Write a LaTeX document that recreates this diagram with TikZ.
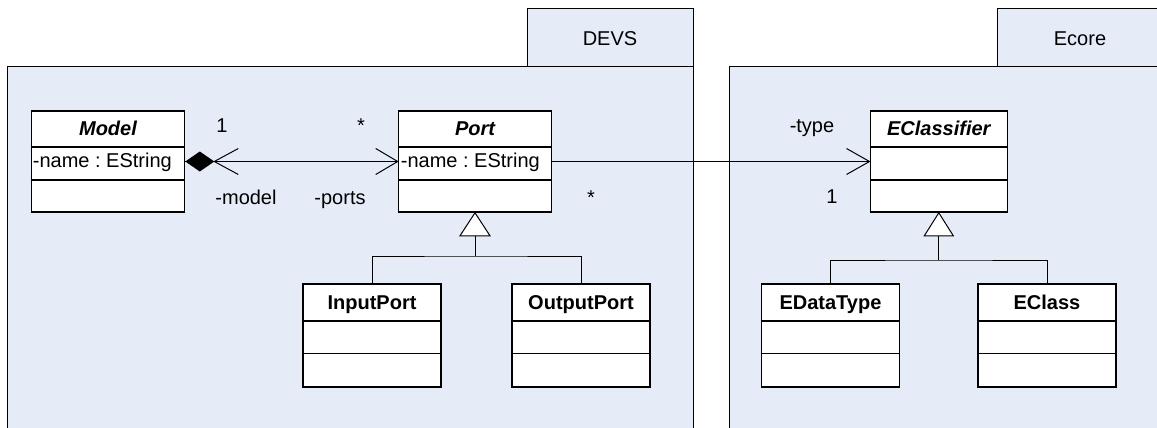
\documentclass[tikz,border=0pt]{standalone}
\usepackage{fontspec}
\setmainfont{Liberation Sans}
\definecolor{pkgblue}{RGB}{230,236,247}
\frenchspacing
\begin{document}
\begin{tikzpicture}[x=1pt,y=-1pt,
  pkg/.style={draw=black, fill=pkgblue, line width=1pt},
  cls/.style={draw=black, fill=white, line width=1.6pt, rectangle, inner sep=0pt},
  divl/.style={line width=1.6pt},
  conn/.style={line width=1pt},
  lbl/.style={font=\fontsize{20}{24}\selectfont, inner sep=0pt, anchor=base},
  ttl/.style={font=\fontsize{20}{24}\selectfont\bfseries\itshape, inner sep=0pt, anchor=base},
  ttlb/.style={font=\fontsize{20}{24}\selectfont\bfseries, inner sep=0pt, anchor=base},
  attr/.style={font=\fontsize{20}{24}\selectfont, inner sep=0pt, anchor=base west},
]
\useasboundingbox (0,0) rectangle (1157,428);
\clip (0,0) rectangle (1157,428);

% packages
\draw[pkg] (527,9) rectangle (693,67);
\draw[pkg] (7,67) rectangle (693,440);
\node[lbl, anchor=center] (devsname) at (610,38.5) {DEVS};
\draw[pkg] (997,9) rectangle (1163,67);
\draw[pkg] (729,67) rectangle (1170,440);
\node[lbl, anchor=center] (ecorename) at (1080,38.5) {Ecore};

% upper classes
\node[cls, minimum width=153pt, minimum height=101pt] (model) at (108,161.5) {};
\node[cls, minimum width=153pt, minimum height=101pt] (port) at (475,161.5) {};
\node[cls, minimum width=137pt, minimum height=101pt] (ecl) at (938.8,161.5) {};
\foreach \c in {model,port,ecl}{
  \draw[divl] ([yshift=-37pt]\c.north west) -- ([yshift=-37pt]\c.north east);
  \draw[divl] ([yshift=-70pt]\c.north west) -- ([yshift=-70pt]\c.north east);
}
\node[ttl] (modelT) at ([yshift=-25pt]model.north) {Model};
\node[attr] (modelA) at ([xshift=2pt,yshift=-57pt]model.north west) {-name : EString};
\node[ttl] (portT) at ([yshift=-25pt]port.north) {Port};
\node[attr] (portA) at ([xshift=3pt,yshift=-57pt]port.north west) {-name : EString};
\node[ttl] (eclT) at ([yshift=-25pt]ecl.north) {EClassifier};

% lower classes
\node[cls, minimum width=138pt, minimum height=102.5pt] (inp) at (372,335.5) {};
\node[cls, minimum width=138pt, minimum height=102.5pt] (outp) at (581,335.5) {};
\node[cls, minimum width=138pt, minimum height=102.5pt] (edt) at (830.5,335.5) {};
\node[cls, minimum width=138pt, minimum height=102.5pt] (ecls) at (1047,335.5) {};
\foreach \c in {inp,outp,edt,ecls}{
  \draw[divl] ([yshift=-37.5pt]\c.north west) -- ([yshift=-37.5pt]\c.north east);
  \draw[divl] ([yshift=-70pt]\c.north west) -- ([yshift=-70pt]\c.north east);
}
\node[ttlb] (inpT) at ([yshift=-26pt]inp.north) {InputPort};
\node[ttlb] (outpT) at ([yshift=-26pt]outp.north) {OutputPort};
\node[ttlb] (edtT) at ([yshift=-26pt]edt.north) {EDataType};
\node[ttlb] (eclsT) at ([yshift=-26pt]ecls.north) {EClass};

% composition Model <-> Port
\draw[conn] (model.east) -- (port.west);
\fill[black] (model.east) -- ([shift={(14.5,-10)}]model.east) -- ([shift={(29,0)}]model.east) -- ([shift={(14.5,10)}]model.east) -- cycle;
\draw[conn] ([shift={(53,-13)}]model.east) -- ([shift={(29,0)}]model.east) -- ([shift={(53,13)}]model.east);
\draw[conn] ([shift={(-22,-13)}]port.west) -- (port.west) -- ([shift={(-22,13)}]port.west);
\node[lbl] (m1) at (222,132.5) {1};
\node[lbl] (mstar) at (361,132.5) {*};
\node[lbl] (mmodel) at (246,204) {-model};
\node[lbl] (mports) at (340,204) {-ports};

% association Port -> EClassifier
\draw[conn] (port.east) -- (ecl.west);
\draw[conn] ([shift={(-23,-13)}]ecl.west) -- (ecl.west) -- ([shift={(-23,13)}]ecl.west);
\node[lbl] (ttype) at (812,132.5) {-type};
\node[lbl] (t1) at (832,203.5) {1};
\node[lbl] (tstar) at (591,204.5) {*};

% generalization DEVS
\coordinate (gD) at (475,256);
\draw[conn] (inp.north) |- (gD) -| (outp.north);
\draw[conn] (gD) -- ([yshift=-23pt]port.south);
\draw[conn, fill=white] (port.south) -- ++(-15,23) -- ++(30,0) -- cycle;

% generalization Ecore
\coordinate (gE) at (938.8,260);
\draw[conn] (edt.north) |- (gE) -| (ecls.north);
\draw[conn] (gE) -- ([yshift=-23pt]ecl.south);
\draw[conn, fill=white] (ecl.south) -- ++(-14.5,23) -- ++(29,0) -- cycle;
\end{tikzpicture}
\end{document}
